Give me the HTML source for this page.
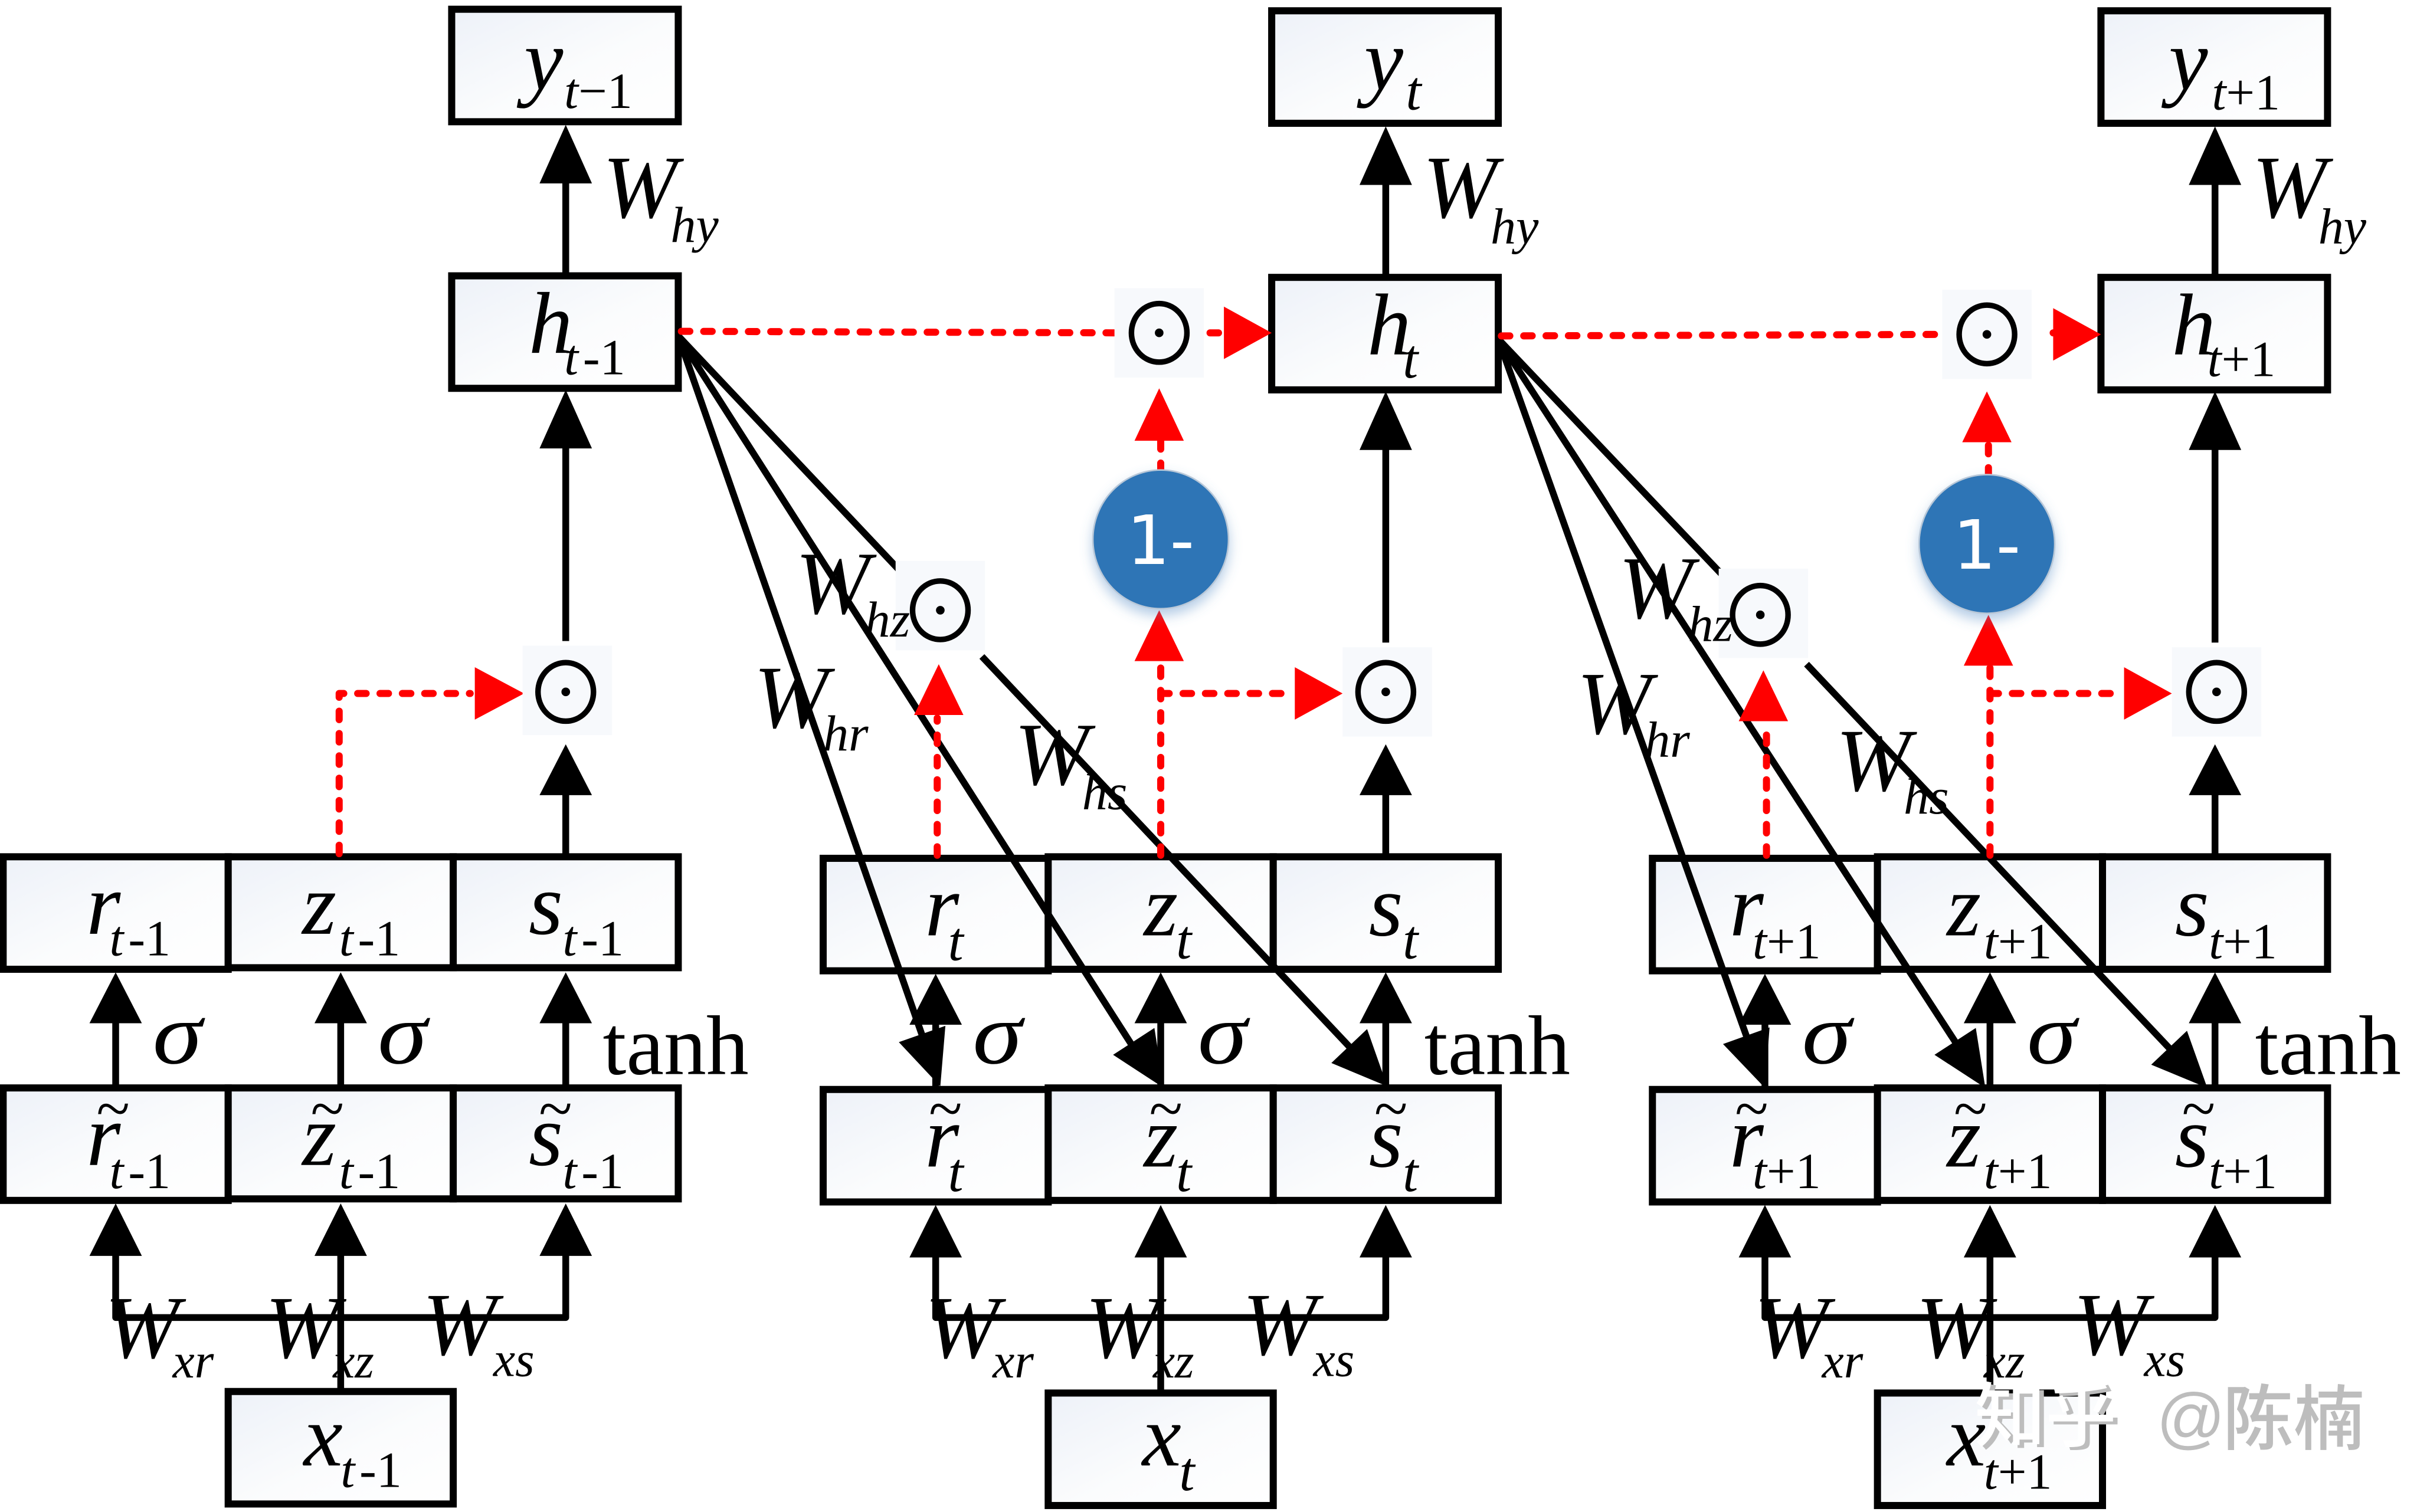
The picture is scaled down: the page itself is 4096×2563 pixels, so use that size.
<!DOCTYPE html>
<html><head><meta charset="utf-8">
<style>
html,body{margin:0;padding:0;background:#fff;width:4096px;height:2563px;overflow:hidden}
svg{display:block}
text{font-family:"Liberation Serif","Noto Serif CJK SC",serif;fill:#000}
.b{fill:url(#g);stroke:#000;stroke-width:4.6}
.m{font-style:italic;font-size:57px}
.W{font-style:italic;font-size:58px}
.s{font-style:italic;font-size:33px}
.u{font-style:italic;font-size:36px}
.x{font-style:italic;font-size:32px}
.n{font-style:normal}
.k{stroke:#000;stroke-width:4.4;fill:none;stroke-linejoin:round}
.d{stroke:#000;stroke-width:3.6;fill:none}
.r{stroke:#f00;stroke-width:4.6;fill:none;stroke-dasharray:5.5 9;stroke-linecap:round;stroke-linejoin:round}
.t{font-style:italic;font-size:40px}
.bg{fill:#f7f9fc}
.w{font-family:"Noto Sans CJK SC","Liberation Sans",sans-serif;font-size:46px;font-weight:500}
</style></head><body>
<svg xmlns="http://www.w3.org/2000/svg" width="4096" height="2563" viewBox="0 0 1568 981.2">
<defs>
<linearGradient id="g" x1="0" y1="0" x2="1" y2="1"><stop offset="0" stop-color="#edf1f8"/><stop offset="0.55" stop-color="#fbfcfd"/><stop offset="1" stop-color="#fff"/></linearGradient>
<filter id="sh" x="-20%" y="-20%" width="140%" height="150%"><feDropShadow dx="0" dy="4" stdDeviation="4" flood-color="#5b8fc7" flood-opacity=".45"/></filter>
</defs>
<rect width="1568" height="982" fill="#fff"/>

<!-- black vertical connectors -->
<path class="k" d="M367 118V178M367 290V416M367 514V555M75 662V705M221 662V705M367 662V705M75 813V855H367V813M221 813V903"/>
<path class="k" d="M899 118V179M899 290V417M899 514V555M607 662V705M753 662V705M899 662V705M607 813V855H899V813M753 813V904"/>
<path class="k" d="M1437 118V179M1437 290V417M1437 514V555M1145 662V705M1291 662V705M1437 662V705M1145 813V855H1437V813M1291 813V904"/>

<!-- boxes col 1 -->
<rect class="b" x="293" y="6" width="147" height="73"/>
<rect class="b" x="293" y="179" width="147" height="73"/>
<rect class="b" x="2" y="556" width="146" height="73"/><rect class="b" x="148" y="556" width="146" height="72"/><rect class="b" x="294" y="556" width="146" height="72"/>
<rect class="b" x="2" y="706" width="146" height="73"/><rect class="b" x="148" y="706" width="146" height="72"/><rect class="b" x="294" y="706" width="146" height="72"/>
<rect class="b" x="148" y="903" width="146" height="73"/>
<!-- boxes col 2 -->
<rect class="b" x="825" y="7" width="147" height="73"/>
<rect class="b" x="825" y="180" width="147" height="73"/>
<rect class="b" x="534" y="557" width="146" height="73"/><rect class="b" x="680" y="556" width="146" height="73"/><rect class="b" x="826" y="556" width="146" height="73"/>
<rect class="b" x="534" y="707" width="146" height="73"/><rect class="b" x="680" y="706" width="146" height="73"/><rect class="b" x="826" y="706" width="146" height="73"/>
<rect class="b" x="680" y="904" width="146" height="73"/>
<!-- boxes col 3 -->
<rect class="b" x="1363" y="7" width="147" height="73"/>
<rect class="b" x="1363" y="180" width="147" height="73"/>
<rect class="b" x="1072" y="557" width="146" height="73"/><rect class="b" x="1218" y="556" width="146" height="73"/><rect class="b" x="1364" y="556" width="146" height="73"/>
<rect class="b" x="1072" y="707" width="146" height="73"/><rect class="b" x="1218" y="706" width="146" height="73"/><rect class="b" x="1364" y="706" width="146" height="73"/>
<rect class="b" x="1218" y="904" width="146" height="73"/>

<!-- black arrowheads -->
<path d="M367 81l-17 38h34zM367 253l-17 38h34zM367 483l-17 33h34zM75 631l-17 33h34zM221 631l-17 33h34zM367 631l-17 33h34zM75 781l-17 34h34zM221 781l-17 34h34zM367 781l-17 34h34z"/>
<path d="M899 82l-17 38h34zM899 254l-17 38h34zM899 483l-17 33h34zM607 632l-17 33h34zM753 631l-17 33h34zM899 631l-17 33h34zM607 782l-17 34h34zM753 782l-17 34h34zM899 782l-17 34h34z"/>
<path d="M1437 82l-17 38h34zM1437 254l-17 38h34zM1437 483l-17 33h34zM1145 632l-17 33h34zM1291 631l-17 33h34zM1437 631l-17 33h34zM1145 782l-17 34h34zM1291 782l-17 34h34zM1437 782l-17 34h34z"/>

<!-- diagonal connectors -->
<path class="k" d="M440 218L600 677M440 218L738 684M440 218L590 377M637 426L878 682"/>
<path class="k" d="M972 220L1135 678M972 220L1271 680M972 220L1122 378M1172 431L1410 683"/>
<polygon points="610,705 613.3,665.7 583.1,676.3"/><polygon points="755,706 748.9,667.1 722.1,684.5"/><polygon points="900,705 886.9,667.8 863.7,689.8"/>
<polygon points="1145,706 1148,666.7 1117.8,677.5"/><polygon points="1288,706 1281.8,667.1 1255,684.5"/><polygon points="1432,706 1418.8,668.9 1395.6,690.9"/>

<!-- red dashed connectors -->
<path class="r" d="M220 554V450H305"/>
<path class="r" d="M442 215L725 216M785 216H794"/>
<path class="r" d="M753 306V282M753 555V428M753 450H838M608 555V466"/>
<path class="r" d="M974 218L1262 217M1332 216H1340"/>
<path class="r" d="M1290 309V285M1291 555V431M1291 450H1376M1146 555V469"/>
<path fill="#f00" d="M308 433l32 17-32 17zM794 199l31 17-31 17zM752 252l-16 34h32zM752 396l-16 33h32zM840 433l31 17-31 17zM609 431l-16 33h32z"/>
<path fill="#f00" d="M1332 200l31 17-31 17zM1289 254l-16 33h32zM1290 399l-16 33h32zM1378 433l31 17-31 17zM1144 435l-16 33h32z"/>

<!-- circles 1- -->
<ellipse cx="753" cy="350" rx="44" ry="45" fill="#2e75b6" stroke="#b9c8d8" stroke-width="1" filter="url(#sh)"/>
<ellipse cx="1289" cy="353" rx="44" ry="45" fill="#2e75b6" stroke="#b9c8d8" stroke-width="1" filter="url(#sh)"/>
<text x="731" y="366" style="font-family:'DejaVu Sans','Liberation Sans',sans-serif;font-size:44px;fill:#fff">1-</text>
<text x="1267" y="369" style="font-family:'DejaVu Sans','Liberation Sans',sans-serif;font-size:44px;fill:#fff">1-</text>

<!-- dot operators -->
<rect class="bg" x="339" y="419" width="58" height="58"/><rect class="bg" x="871" y="420" width="58" height="58"/><rect class="bg" x="1409" y="420" width="58" height="58"/>
<rect class="bg" x="723" y="187" width="58" height="58"/><rect class="bg" x="1260" y="188" width="58" height="58"/>
<rect class="bg" x="581" y="364" width="58" height="58"/><rect class="bg" x="1115" y="369" width="58" height="58"/>
<g class="d">
<ellipse cx="367" cy="449" rx="18" ry="19"/><ellipse cx="899" cy="449" rx="18" ry="19"/><ellipse cx="1438" cy="449" rx="18" ry="19"/>
<ellipse cx="752" cy="216" rx="18" ry="19"/><ellipse cx="1289" cy="217" rx="18" ry="19"/>
<ellipse cx="610" cy="396" rx="18" ry="19"/><ellipse cx="1142" cy="399" rx="18" ry="19"/>
</g>
<g>
<circle cx="367" cy="449" r="2.8"/><circle cx="899" cy="449" r="2.8"/><circle cx="1438" cy="449" r="2.8"/>
<circle cx="752" cy="216" r="2.8"/><circle cx="1289" cy="217" r="2.8"/>
<circle cx="610" cy="396" r="2.8"/><circle cx="1142" cy="399" r="2.8"/>
</g>

<!-- col 1 labels -->
<text class="m" x="340" y="58">y</text><text class="s" x="366" y="70">t<tspan class="n">−1</tspan></text>
<text class="m" x="343" y="229">h</text><text class="s" x="366" y="243">t<tspan class="n" dx="3">-1</tspan></text>
<text class="m" x="56" y="606">r</text><text class="s" x="71" y="620">t<tspan class="n" dx="3">-1</tspan></text>
<text class="m" x="196" y="606">z</text><text class="s" x="220" y="620">t<tspan class="n" dx="3">-1</tspan></text>
<text class="m" x="343" y="606">s</text><text class="s" x="365" y="620">t<tspan class="n" dx="3">-1</tspan></text>
<text class="t" x="62" y="733">~</text><text class="m" x="56" y="756">r</text><text class="s" x="71" y="771">t<tspan class="n" dx="3">-1</tspan></text>
<text class="t" x="201" y="733">~</text><text class="m" x="196" y="756">z</text><text class="s" x="220" y="771">t<tspan class="n" dx="3">-1</tspan></text>
<text class="t" x="349" y="733">~</text><text class="m" x="343" y="756">s</text><text class="s" x="365" y="771">t<tspan class="n" dx="3">-1</tspan></text>
<text class="m" x="197" y="951">x</text><text class="s" x="221" y="965">t<tspan class="n" dx="3">-1</tspan></text>
<text class="W" x="391" y="141">W</text><text class="s" x="435" y="157">hy</text>
<text class="m" x="99" y="690" textLength="32" lengthAdjust="spacingAndGlyphs">σ</text><text class="m" x="245" y="690" textLength="32" lengthAdjust="spacingAndGlyphs">σ</text>
<text x="391" y="697" style="font-size:55px">tanh</text>
<text class="W" x="68" y="881">W</text><text class="x" x="112" y="894">xr</text>
<text class="W" x="172" y="881">W</text><text class="x" x="216" y="894">xz</text>
<text class="W" x="274" y="879">W</text><text class="x" x="320" y="893">xs</text>

<!-- col 2 labels -->
<text class="m" x="885" y="58">y</text><text class="u" x="912" y="71">t</text>
<text class="m" x="887" y="230">h</text><text class="u" x="910" y="245">t</text>
<text class="m" x="600" y="607">r</text><text class="u" x="615" y="623">t</text>
<text class="m" x="742" y="607">z</text><text class="u" x="763" y="622">t</text>
<text class="m" x="888" y="607">s</text><text class="u" x="910" y="622">t</text>
<text class="t" x="602" y="733">~</text><text class="m" x="600" y="757">r</text><text class="u" x="615" y="773">t</text>
<text class="t" x="745" y="733">~</text><text class="m" x="742" y="757">z</text><text class="u" x="763" y="773">t</text>
<text class="t" x="891" y="733">~</text><text class="m" x="888" y="757">s</text><text class="u" x="910" y="773">t</text>
<text class="m" x="741" y="951">x</text><text class="u" x="765" y="967">t</text>
<text class="W" x="923" y="141">W</text><text class="s" x="967" y="158">hy</text>
<text class="m" x="631" y="690" textLength="32" lengthAdjust="spacingAndGlyphs">σ</text><text class="m" x="777" y="690" textLength="32" lengthAdjust="spacingAndGlyphs">σ</text>
<text x="924" y="697" style="font-size:55px">tanh</text>
<text class="W" x="600" y="881">W</text><text class="x" x="644" y="894">xr</text>
<text class="W" x="704" y="881">W</text><text class="x" x="748" y="894">xz</text>
<text class="W" x="806" y="879">W</text><text class="x" x="852" y="893">xs</text>
<text class="W" x="516" y="398">W</text><text class="s" x="561" y="413">hz</text>
<text class="W" x="489" y="472">W</text><text class="s" x="534" y="487">hr</text>
<text class="W" x="658" y="509">W</text><text class="s" x="702" y="525">hs</text>

<!-- col 3 labels -->
<text class="m" x="1407" y="58">y</text><text class="s" x="1435" y="71">t<tspan class="n">+1</tspan></text>
<text class="m" x="1409" y="230">h</text><text class="s" x="1432" y="244">t<tspan class="n">+1</tspan></text>
<text class="m" x="1122" y="607">r</text><text class="s" x="1137" y="622">t<tspan class="n">+1</tspan></text>
<text class="m" x="1263" y="607">z</text><text class="s" x="1287" y="622">t<tspan class="n">+1</tspan></text>
<text class="m" x="1411" y="607">s</text><text class="s" x="1433" y="622">t<tspan class="n">+1</tspan></text>
<text class="t" x="1125" y="733">~</text><text class="m" x="1122" y="757">r</text><text class="s" x="1137" y="771">t<tspan class="n">+1</tspan></text>
<text class="t" x="1267" y="733">~</text><text class="m" x="1263" y="757">z</text><text class="s" x="1287" y="771">t<tspan class="n">+1</tspan></text>
<text class="t" x="1415" y="733">~</text><text class="m" x="1411" y="757">s</text><text class="s" x="1433" y="771">t<tspan class="n">+1</tspan></text>
<text class="m" x="1263" y="951">x</text><text class="s" x="1287" y="966">t<tspan class="n">+1</tspan></text>
<text class="W" x="1461" y="141">W</text><text class="s" x="1504" y="158">hy</text>
<text class="m" x="1169" y="690" textLength="32" lengthAdjust="spacingAndGlyphs">σ</text><text class="m" x="1315" y="690" textLength="32" lengthAdjust="spacingAndGlyphs">σ</text>
<text x="1463" y="697" style="font-size:55px">tanh</text>
<text class="W" x="1138" y="881">W</text><text class="x" x="1182" y="894">xr</text>
<text class="W" x="1243" y="881">W</text><text class="x" x="1287" y="894">xz</text>
<text class="W" x="1345" y="879">W</text><text class="x" x="1391" y="893">xs</text>
<text class="W" x="1050" y="401">W</text><text class="s" x="1095" y="416">hz</text>
<text class="W" x="1023" y="476">W</text><text class="s" x="1067" y="491">hr</text>
<text class="W" x="1191" y="513">W</text><text class="s" x="1235" y="528">hs</text>

<!-- watermark -->
<text class="w" x="1284" y="937" style="fill:#bdbdbd">知乎</text>
<text class="w" x="1281" y="935" style="fill:#fff">知乎</text>
<text class="w" x="1399" y="935" style="fill:#bdbdbd;font-family:'Liberation Sans',sans-serif;font-size:44px">@</text>
<text class="w" x="1442" y="937" style="fill:#bdbdbd">陈楠</text>
</svg>
</body></html>
